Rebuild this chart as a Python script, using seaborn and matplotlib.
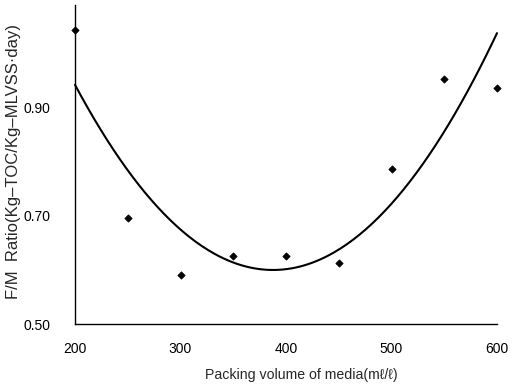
import numpy as np
import pandas as pd
import matplotlib
matplotlib.use("Agg")
import matplotlib.pyplot as plt
import seaborn as sns

# Measured F/M ratio at each packing volume
packing_volume = [200, 250, 300, 350, 400, 450, 500, 550, 600]
fm_ratio = [1.043, 0.696, 0.591, 0.625, 0.626, 0.612, 0.786, 0.954, 0.937]

# Second-order trend curve: a*x^2 + b*x + c
curve_coef = [9.72e-6, -7.537e-3, 2.061]

x_ticks = [200, 300, 400, 500, 600]
y_ticks = [0.50, 0.70, 0.90]
y_tick_labels = ["0.50", "0.70", "0.90"]

sns.set_style("white")
plt.rcParams["font.family"] = ["Liberation Sans", "DejaVu Sans"]

fig = plt.figure(figsize=(5.12, 3.90), dpi=100)
ax = fig.add_axes([75 / 512, 66 / 390, 422 / 512, 319 / 390])

points = pd.DataFrame({"volume": packing_volume, "fm": fm_ratio})
sns.scatterplot(data=points, x="volume", y="fm", marker="D", s=14,
                color="black", edgecolor="black", linewidth=0.5,
                ax=ax, clip_on=False, zorder=3)

xs = np.linspace(packing_volume[0], packing_volume[-1], 200)
curve = pd.DataFrame({"volume": xs, "fm": np.polyval(curve_coef, xs)})
sns.lineplot(data=curve, x="volume", y="fm", color="black", linewidth=1.5,
             ax=ax, clip_on=False)

ax.set_xlim(200, 600)
ax.set_ylim(0.50, 1.09)
ax.set_xticks(x_ticks)
ax.set_yticks(y_ticks)
ax.set_yticklabels(y_tick_labels)
sns.despine(ax=ax)
for side in ("left", "bottom"):
    ax.spines[side].set_color("black")
    ax.spines[side].set_linewidth(1.0)

ax.tick_params(axis="y", direction="in", length=3, width=0.8, pad=17.5,
               labelsize=10, colors="black")
ax.tick_params(axis="x", direction="in", length=3, width=0.8, pad=13,
               labelsize=10, colors="black")

ax.set_xlabel("Packing volume of media(m\u2113/\u2113)", fontsize=10.2)
ax.set_ylabel("F/M  Ratio(Kg\u2013TOC/Kg\u2013MLVSS\u00b7day)", fontsize=12)
ax.xaxis.set_label_coords(0.537, -0.137)
ax.yaxis.set_label_coords(-0.128, 0.508)

fig.savefig("out.png", dpi=100)
